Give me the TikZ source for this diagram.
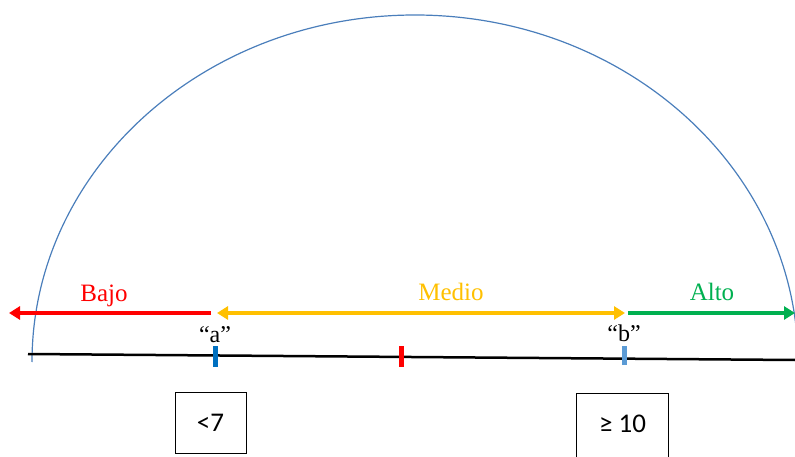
\documentclass[tikz,border=0pt]{standalone}
\usepackage{fontspec}
\setmainfont{Liberation Serif}
\newfontfamily\labelfont{Liberation Serif}
\newfontfamily\boxfont{Carlito}
\usetikzlibrary{arrows.meta}
\definecolor{arcblue}{HTML}{4A7EBB}
\definecolor{lowred}{HTML}{FF0000}
\definecolor{midyellow}{HTML}{FFC000}
\definecolor{highgreen}{HTML}{00B050}
\definecolor{tickblue}{HTML}{0070C0}
\definecolor{ticklight}{HTML}{5B9BD5}
\tikzset{
  rangearrow/.style={line width=4pt, arrows={-{Triangle[length=11pt,width=13pt]}}},
  rangelabel/.style={anchor=base, inner sep=0pt, font=\labelfont\fontsize{25}{30}\selectfont},
  quotelabel/.style={anchor=base, inner sep=0pt, font=\labelfont\fontsize{24}{28}\selectfont},
  tickmark/.style={line width=5pt},
  valuebox/.style={line width=1pt, font=\boxfont\fontsize{27}{32}\selectfont, inner sep=0pt}
}
\begin{document}
\begin{tikzpicture}[x=1pt,y=-1pt]
\useasboundingbox (0,0) rectangle (795,457);
\clip (0,0) rectangle (795,457);
% semicircle
\draw[arcblue, line width=1.2pt] (32,362) arc[start angle=180, end angle=0, x radius=383pt, y radius=347pt];
% axis
\coordinate (axL) at (28,354);
\coordinate (axR) at (795,360);
\draw[line width=2.5pt] (axL) -- (axR);
% arrows
\coordinate (redS) at (211,313);
\coordinate (redE) at (9,313);
\coordinate (yelL) at (217,313);
\coordinate (yelR) at (625,313);
\coordinate (grnS) at (628,313);
\coordinate (grnE) at (795,313);
\draw[rangearrow, lowred] (redS) -- (redE);
\draw[rangearrow, midyellow, arrows={{Triangle[length=11pt,width=13pt]}-{Triangle[length=11pt,width=13pt]}}] (yelL) -- (yelR);
\draw[rangearrow, highgreen] (grnS) -- (grnE);
% labels
\node[rangelabel, text=lowred] (bajo) at (104,301) {Bajo};
\node[rangelabel, text=midyellow] (medio) at (451,300) {Medio};
\node[rangelabel, text=highgreen] (alto) at (712,300) {Alto};
\node[quotelabel] (qa) at (215,342) {“a”};
\node[quotelabel] (qb) at (624,341) {“b”};
% ticks
\coordinate (taT) at (215,346); \coordinate (taB) at (215,367);
\coordinate (tmT) at (401,346); \coordinate (tmB) at (401,367);
\coordinate (tbT) at (624,346); \coordinate (tbB) at (624,365);
\draw[tickmark, tickblue] (taT) -- (taB);
\draw[tickmark, lowred] (tmT) -- (tmB);
\draw[tickmark, ticklight] (tbT) -- (tbB);
% boxes
\node[valuebox, draw, minimum width=71pt, minimum height=61pt] (box1) at (210.5,422.5) {<7};
\node[valuebox, minimum width=91pt, minimum height=62pt] (box2) at (622.5,424) {≥ 10};
\draw[line width=1pt] ([yshift=-20pt]box2.south west) -- ([yshift=-1pt]box2.north west) -- ([yshift=-1pt]box2.north east) -- ([yshift=-20pt]box2.south east);
\end{tikzpicture}
\end{document}
